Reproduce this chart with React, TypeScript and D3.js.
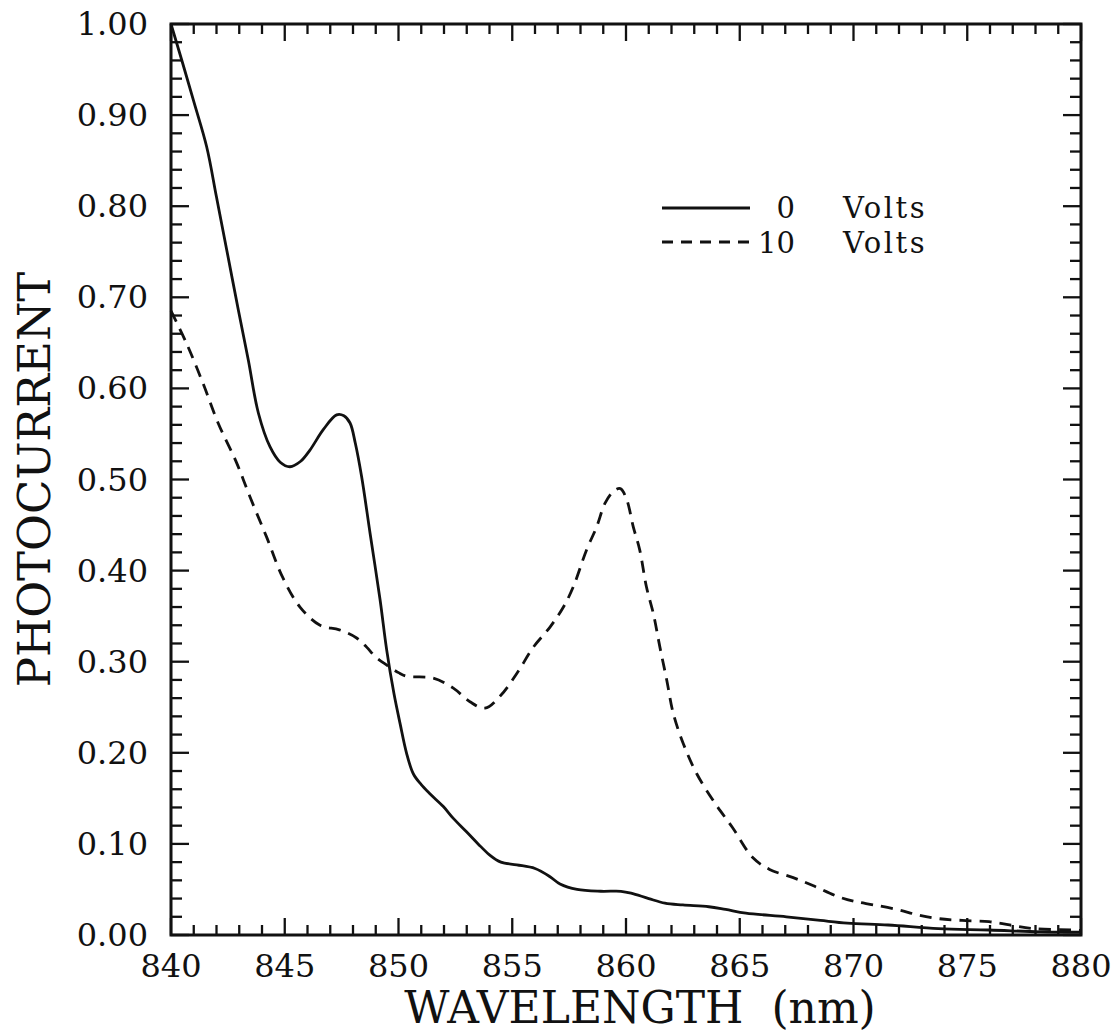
import React from "react";
import * as d3 from "d3";

// ---- Data ----
const wl0V = [840.0, 840.5, 841.0, 841.57, 842.0, 842.45, 842.96, 843.4, 843.84, 844.35, 844.8, 845.23, 845.7, 846.1, 846.7, 847.28, 847.6, 847.87, 848.1, 848.38, 848.75, 849.19, 849.48, 849.8, 850.07, 850.35, 850.65, 851.0, 851.38, 851.97, 852.41, 853.0, 853.5, 854.0, 854.5, 855.2, 856.0, 856.66, 857.1, 857.85, 858.89, 859.78, 860.22, 861.0, 861.71, 862.5, 863.64, 864.38, 865.27, 867.05, 868.54, 869.73, 871.52, 873.73, 875.96, 878.2, 880.0];
const pc0V = [1.0, 0.958, 0.915, 0.865, 0.81, 0.752, 0.686, 0.631, 0.573, 0.536, 0.519, 0.514, 0.52, 0.532, 0.555, 0.571, 0.57, 0.562, 0.54, 0.503, 0.441, 0.368, 0.313, 0.265, 0.232, 0.2, 0.177, 0.165, 0.155, 0.141, 0.128, 0.113, 0.1, 0.088, 0.08, 0.077, 0.073, 0.064, 0.056, 0.05, 0.048, 0.048, 0.046, 0.04, 0.035, 0.033, 0.031, 0.028, 0.024, 0.02, 0.016, 0.013, 0.011, 0.007, 0.0055, 0.0035, 0.003];

const wl10V = [840.0, 840.69, 841.4, 842.07, 842.89, 843.47, 844.2, 844.9, 845.67, 846.55, 847.4, 848.16, 848.6, 849.0, 849.5, 850.0, 850.36, 851.53, 852.41, 853.14, 853.8, 854.46, 855.2, 855.93, 856.66, 857.25, 857.68, 858.27, 858.71, 859.08, 859.45, 859.75, 860.03, 860.32, 860.6, 860.9, 861.2, 861.49, 861.79, 862.08, 862.52, 863.11, 863.93, 864.68, 865.57, 866.31, 867.35, 868.24, 869.28, 870.02, 870.9, 871.96, 872.84, 873.73, 874.77, 875.96, 876.86, 877.9, 879.68, 880.0];
const pc10V = [0.685, 0.649, 0.606, 0.562, 0.518, 0.481, 0.437, 0.393, 0.36, 0.34, 0.335, 0.326, 0.316, 0.305, 0.296, 0.288, 0.284, 0.282, 0.271, 0.256, 0.249, 0.262, 0.287, 0.316, 0.338, 0.36, 0.382, 0.423, 0.448, 0.474, 0.487, 0.49, 0.478, 0.448, 0.423, 0.382, 0.353, 0.316, 0.28, 0.243, 0.21, 0.177, 0.144, 0.118, 0.085, 0.072, 0.063, 0.054, 0.0425, 0.037, 0.033, 0.0277, 0.022, 0.018, 0.016, 0.0146, 0.011, 0.007, 0.0055, 0.005];

const xTickValues = [840, 845, 850, 855, 860, 865, 870, 875, 880];
const xTickLabels = ["840", "845", "850", "855", "860", "865", "870", "875", "880"];
const yTickValues = [0, 0.1, 0.2, 0.3, 0.4, 0.5, 0.6, 0.7, 0.8, 0.9, 1.0];
const yTickLabels = ["0.00", "0.10", "0.20", "0.30", "0.40", "0.50", "0.60", "0.70", "0.80", "0.90", "1.00"];
const legendNumbers = ["0", "10"];
const legendUnits = ["Volts", "Volts"];

const W = 1115;
const H = 1033;
const left = 171, right = 1081, top = 24, bottom = 935;

export default function App() {
  const x = d3.scaleLinear().domain([840, 880]).range([left, right]);
  const y = d3.scaleLinear().domain([0, 1]).range([bottom, top]);

  const line = d3
    .line<[number, number]>()
    .x((d) => x(d[0]))
    .y((d) => y(d[1]))
    .curve(d3.curveCatmullRom.alpha(0.5));

  const solidPts: [number, number][] = wl0V.map((w, i) => [w, pc0V[i]]);
  const dashPts: [number, number][] = wl10V.map((w, i) => [w, pc10V[i]]);

  const xMinor = d3.range(840, 881, 1);
  const yMinor = d3.range(0, 51, 1).map((k) => k * 0.02);

  const numFont = "'DejaVu Serif', serif";
  const ink = "#111";

  return (
    <svg
      width={W}
      height={H}
      style={{ position: "absolute", left: 0, top: 0, background: "#fff" }}
    >
      {/* ticks */}
      <g stroke={ink} strokeWidth={2.3}>
        {xMinor.map((v) => {
          const major = v % 5 === 0;
          const len = major ? 17 : 10;
          return (
            <g key={"xt" + v}>
              <line x1={x(v)} x2={x(v)} y1={top} y2={top + len} />
              <line x1={x(v)} x2={x(v)} y1={bottom} y2={bottom - len} />
            </g>
          );
        })}
        {yMinor.map((v, i) => {
          const major = i % 5 === 0;
          const len = major ? 18 : 11;
          return (
            <g key={"yt" + i}>
              <line x1={left} x2={left + len} y1={y(v)} y2={y(v)} />
              <line x1={right} x2={right - len} y1={y(v)} y2={y(v)} />
            </g>
          );
        })}
      </g>
      {/* frame */}
      <rect
        x={left}
        y={top}
        width={right - left}
        height={bottom - top}
        fill="none"
        stroke={ink}
        strokeWidth={3}
      />
      {/* curves */}
      <path d={line(solidPts) || ""} fill="none" stroke={ink} strokeWidth={2.8} />
      <path
        d={line(dashPts) || ""}
        fill="none"
        stroke={ink}
        strokeWidth={2.8}
        strokeDasharray="12,8"
      />
      {/* y tick labels */}
      {yTickValues.map((v, i) => (
        <text
          key={"yl" + i}
          x={148}
          y={y(v) + 11}
          textAnchor="end"
          fontFamily={numFont}
          fontSize={32}
          fill={ink}
        >
          {yTickLabels[i]}
        </text>
      ))}
      {/* x tick labels */}
      {xTickValues.map((v, i) => (
        <text
          key={"xl" + i}
          x={x(v)}
          y={977}
          textAnchor="middle"
          fontFamily={numFont}
          fontSize={32}
          fill={ink}
        >
          {xTickLabels[i]}
        </text>
      ))}
      {/* axis titles */}
      <text
        x={640}
        y={1023}
        textAnchor="middle"
        fontFamily={numFont}
        fontSize={44}
        fill={ink}
        style={{ whiteSpace: "pre" }}
      >
        {"WAVELENGTH  (nm)"}
      </text>
      <text
        transform={`translate(50, ${(top + bottom) / 2}) rotate(-90)`}
        textAnchor="middle"
        fontFamily={numFont}
        fontSize={45}
        fill={ink}
      >
        PHOTOCURRENT
      </text>
      {/* legend */}
      <g>
        <line x1={662} x2={750} y1={208} y2={208} stroke={ink} strokeWidth={2.8} />
        <line
          x1={662}
          x2={750}
          y1={242}
          y2={242}
          stroke={ink}
          strokeWidth={2.8}
          strokeDasharray="11,8"
        />
        {legendNumbers.map((n, i) => (
          <text
            key={"ln" + i}
            x={795}
            y={218 + i * 35}
            textAnchor="end"
            fontFamily={numFont}
            fontSize={29}
            fill={ink}
          >
            {n}
          </text>
        ))}
        {legendUnits.map((u, i) => (
          <text
            key={"lu" + i}
            x={843}
            y={218 + i * 35}
            fontFamily={numFont}
            fontSize={29}
            letterSpacing={2.5}
            fill={ink}
          >
            {u}
          </text>
        ))}
      </g>
    </svg>
  );
}
